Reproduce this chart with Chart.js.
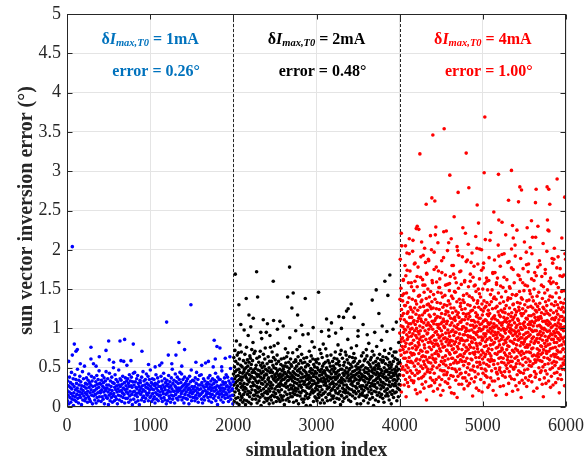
<!DOCTYPE html>
<html><head><meta charset="utf-8">
<script src="https://cdn.jsdelivr.net/npm/chart.js@4.4.0/dist/chart.umd.min.js"></script>
<style>html,body{margin:0;padding:0;background:#fff}canvas{display:block}</style>
</head><body>
<canvas id="c" width="584" height="459"></canvas>
<script>
// ---------------- data ----------------
const groupStart = [0, 2000, 4000];          // first simulation index of each group
const groupSize = 2000;                      // simulations per group
const dividers = [2000, 4000];               // dashed group boundaries
const currents = ['1mA', '2mA', '4mA'];      // δI_max,T0 of each group
const meanErrors = ['0.26°', '0.48°', '1.00°'];

// sampled errors (deg) across each group, in simulation order
const blueErr = [.21,.08,.33,.15,.27,.04,.19,.38,.12,.25,.31,.06,.17,.44,.23,.10,.29,.14,.36,.02,
.18,.26,.09,.41,.13,.22,.35,.07,.30,.16,.24,.48,.11,.20,.05,.34,.28,.15,.39,.19,
.12,.32,.23,.03,.27,.17,.45,.09,.21,.36,.14,.26,.52,.08,.18,.30,.11,.24,.37,.16,
.29,.06,.20,.34,.13,.42,.25,.10,.31,.18,.07,.28,.22,.39,.15,.33,.04,.26,.19,.55,
.14,.37,.21,.09,.27,.16,.32,.05,.23,.40,.12,.29,.18,.35,.08,.25,.46,.13,.30,.20,
.18,.29,.07,.34,.22,.13,.40,.26,.10,.31,.19,.37,.04,.24,.15,.33,.21,.45,.12,.28,
.24,.11,.36,.19,.03,.28,.15,.43,.22,.08,.33,.17,.26,.12,.38,.21,.06,.31,.14,.50,
.17,.30,.08,.25,.41,.13,.22,.35,.10,.27,.19,.04,.32,.23,.15,.47,.28,.09,.20,.36,
.26,.14,.34,.21,.07,.29,.18,.39,.12,.24,.58,.16,.31,.05,.22,.37,.11,.27,.19,.33,
.23,.11,.36,.17,.30,.06,.26,.41,.14,.20,.33,.09,.27,.38,.16,.25,.03,.32,.19,.43,
.10,.28,.20,.44,.15,.32,.06,.25,.17,.36,.23,.13,.40,.08,.30,.18,.26,.03,.21,.34,
.31,.16,.24,.09,.38,.19,.27,.12,.45,.22,.14,.33,.07,.28,.20,.35,.11,.25,.42,.17,
.30,.15,.24,.39,.08,.28,.18,.35,.22,.12,.47,.26,.14,.31,.07,.23,.36,.17,.29,.10,
.22,.35,.13,.27,.05,.30,.18,.41,.24,.10,.29,.16,.37,.21,.08,.32,.26,.14,.53,.19,
.15,.26,.39,.11,.23,.33,.07,.20,.28,.17,.43,.12,.25,.36,.09,.22,.31,.16,.04,.27,
.34,.18,.08,.29,.21,.40,.14,.25,.11,.32,.19,.06,.27,.37,.15,.23,.48,.10,.30,.20,
.14,.34,.20,.05,.27,.42,.16,.25,.32,.11,.22,.38,.19,.09,.30,.24,.13,.35,.21,.44,
.13,.24,.31,.17,.42,.09,.26,.20,.35,.12,.28,.05,.22,.38,.16,.30,.11,.25,.19,.33,
.27,.10,.36,.22,.15,.29,.04,.24,.39,.18,.13,.32,.21,.47,.08,.26,.17,.34,.12,.23,
.19,.33,.12,.26,.08,.37,.21,.15,.30,.44,.11,.24,.18,.35,.06,.28,.22,.14,.40,.16,
.28,.16,.23,.41,.10,.31,.18,.05,.27,.20,.36,.13,.25,.09,.33,.21,.56,.15,.29,.17,
.26,.19,.31,.12,.37,.23,.08,.29,.17,.40,.25,.13,.33,.21,.06,.28,.16,.36,.24,.51,
.11,.30,.20,.34,.14,.25,.43,.08,.22,.32,.17,.27,.03,.38,.19,.12,.26,.35,.16,.24,
.35,.21,.09,.28,.17,.46,.13,.24,.32,.06,.20,.29,.15,.37,.23,.11,.31,.18,.41,.26,
.16,.27,.38,.12,.22,.07,.33,.19,.25,.14,.30,.49,.10,.28,.21,.36,.15,.23,.04,.32];

const blackErr = [.42,.15,.63,.28,.07,.51,.36,.72,.19,.45,.31,.58,.11,.39,.84,.24,.47,.05,.66,.33,
.27,.55,.12,.40,.69,.21,.48,.03,.35,.61,.17,.44,.79,.30,.09,.53,.38,.25,.70,.14,
.34,.12,.51,.27,.43,.06,.38,.22,.59,.16,.45,.30,.09,.48,.25,.67,.19,.40,.03,.56,
.50,.23,.37,.76,.08,.43,.29,.60,.16,.52,.34,.91,.20,.46,.06,.57,.32,.41,.13,.65,
.36,.62,.18,.49,.26,.04,.54,.39,.73,.22,.44,.10,.59,.31,.82,.27,.47,.15,.37,.68,
.28,.44,.15,.36,.71,.21,.49,.10,.33,.53,.18,.42,.26,.62,.05,.39,.31,.14,.47,.24,
.19,.41,.57,.08,.33,.64,.25,.46,.12,.71,.38,.53,.21,.02,.43,.30,.87,.16,.50,.35,
.56,.29,.14,.45,.67,.23,.37,.06,.52,.40,.18,.61,.32,.75,.11,.48,.26,.42,.95,.20,
.41,.08,.55,.29,.17,.46,.35,.64,.11,.37,.23,.50,.04,.32,.58,.20,.44,.27,.76,.13,
.31,.47,.09,.58,.24,.39,.70,.15,.44,.28,.53,.05,.36,.63,.19,.50,.78,.34,.13,.41,
.23,.60,.38,.17,.49,.32,.07,.55,.43,.26,.66,.12,.46,.35,.81,.21,.40,.58,.29,.10,
.19,.37,.26,.48,.07,.42,.30,.15,.54,.33,.61,.22,.39,.12,.46,.28,.35,.09,.52,.41,
.48,.14,.35,.62,.27,.03,.44,.52,.19,.37,.74,.30,.56,.09,.42,.25,.64,.16,.51,.33,
.39,.26,.69,.11,.45,.34,.57,.22,.07,.49,.38,.88,.17,.43,.28,.61,.13,.54,.36,.24,
.52,.23,.40,.13,.33,.69,.18,.45,.27,.06,.38,.57,.21,.43,.31,.16,.49,.36,.24,.60,
.58,.20,.41,.08,.52,.30,.73,.15,.46,.35,.23,.64,.40,.04,.55,.27,.48,.19,.77,.32,
.14,.44,.28,.59,.37,.18,.50,.25,.67,.10,.42,.33,.56,.21,.92,.38,.06,.47,.29,.62,
.10,.46,.32,.57,.20,.39,.14,.51,.28,.44,.02,.35,.63,.17,.41,.25,.54,.11,.37,.29,
.35,.53,.12,.40,.24,.71,.31,.45,.16,.58,.02,.37,.49,.26,.65,.19,.43,.34,.83,.22,
.47,.29,.61,.18,.39,.07,.54,.33,.42,.76,.20,.51,.13,.45,.30,.60,.24,.38,.11,.57,
.43,.27,.08,.50,.36,.22,.61,.31,.16,.47,.34,.12,.55,.26,.40,.73,.19,.45,.05,.33,
.26,.68,.36,.15,.48,.41,.22,.63,.09,.52,.32,.44,.80,.17,.37,.55,.28,.05,.46,.34,
.43,.19,.57,.31,.74,.12,.40,.27,.50,.36,.65,.23,.08,.47,.39,.59,.16,.33,.98,.25,
.25,.56,.38,.17,.45,.29,.52,.09,.36,.66,.21,.42,.30,.14,.48,.37,.23,.58,.32,.11,
.30,.52,.14,.45,.26,.62,.38,.06,.49,.21,.70,.35,.42,.18,.55,.29,.44,.11,.61,.37,
.55,.24,.39,.79,.17,.46,.32,.58,.10,.41,.27,.53,.20,.67,.34,.03,.48,.31,.72,.15,
.37,.14,.48,.31,.62,.24,.07,.43,.35,.19,.53,.28,.40,.11,.57,.22,.46,.33,.70,.18,
.21,.43,.66,.28,.50,.13,.37,.60,.25,.44,.86,.18,.40,.56,.09,.33,.47,.23,.64,.36,
.49,.16,.34,.54,.07,.42,.29,.75,.38,.22,.51,.31,.63,.14,.45,.27,.57,.40,.19,.68,
.33,.58,.20,.46,.37,.11,.62,.26,.41,.52,.17,.35,.78,.24,.48,.04,.43,.30,.55,.90,
.30,.50,.20,.39,.13,.44,.34,.58,.26,.47,.16,.36,.04,.51,.27,.42,.65,.23,.38,.15,
.18,.40,.53,.27,.69,.34,.08,.47,.21,.59,.39,.14,.44,.32,.61,.25,.50,.37,.12,.73,
.44,.28,.65,.15,.36,.49,.23,.57,.05,.42,.31,.81,.19,.46,.35,.54,.10,.39,.26,.60,
.37,.51,.22,.63,.30,.17,.45,.39,.71,.12,.48,.27,.56,.33,.02,.43,.66,.20,.50,.29,
.26,.47,.34,.09,.58,.41,.19,.53,.36,.77,.24,.44,.15,.62,.31,.49,.38,.07,.55,.42,
.52,.18,.40,.67,.28,.35,.13,.48,.60,.23,.43,.32,.85,.16,.46,.27,.57,.39,.11,.64,
.31,.59,.25,.42,.06,.50,.37,.72,.20,.45,.29,.55,.14,.38,.63,.22,.47,.34,.96,.17,
.45,.23,.61,.36,.14,.53,.28,.41,.68,.09,.49,.32,.57,.19,.44,.26,.74,.38,.51,.04,
.38,.54,.16,.47,.29,.65,.21,.43,.34,.58,.12,.40,.27,.70,.35,.48,.18,.62,.30,.45,
.27,.42,.70,.19,.51,.33,.08,.46,.39,.60,.24,.55,.36,.13,.48,.82,.29,.41,.22,.57];

const redErr = [0.94,0.41,1.37,0.72,1.88,0.55,1.12,0.28,0.83,1.51,0.66,1.03,0.19,1.24,0.87,2.05,0.48,1.16,0.77,1.42,
0.88,1.35,0.51,1.02,0.73,1.61,0.40,1.19,0.95,0.62,1.44,0.84,0.28,1.11,0.69,1.29,0.99,0.47,1.80,0.77,
0.62,1.29,0.35,0.98,1.67,0.81,0.13,1.08,0.53,1.45,0.92,0.70,1.96,0.44,1.19,0.86,0.31,1.33,0.58,1.02,
1.21,0.50,0.89,1.58,0.26,1.06,0.74,1.39,0.63,2.14,0.95,0.38,1.14,0.80,1.73,0.57,1.27,0.46,0.99,0.69,
1.06,0.58,1.24,0.90,0.34,1.53,0.81,1.14,0.66,1.00,0.43,1.37,0.75,1.98,0.56,0.93,1.21,0.68,1.08,0.31,
0.85,1.48,0.33,1.10,0.67,1.82,0.52,0.97,1.26,0.40,1.60,0.78,1.05,0.22,1.35,0.91,0.59,1.18,0.73,2.27,
0.47,1.00,1.31,0.61,0.88,0.17,1.53,0.76,1.09,0.43,1.23,0.96,1.78,0.55,0.82,1.41,0.36,1.13,0.68,0.93,
0.79,1.16,0.45,1.42,0.86,1.03,0.60,1.27,0.19,0.97,1.65,0.72,1.12,0.52,1.34,0.89,0.37,1.09,2.10,0.64,
1.36,0.71,0.29,1.17,0.84,1.62,0.49,1.01,0.65,1.93,0.39,0.90,1.28,0.58,1.07,0.24,1.46,0.79,1.20,0.54,
0.75,1.55,0.42,0.97,1.22,0.64,1.84,0.32,1.11,0.86,0.51,1.38,0.70,0.09,1.04,1.69,0.60,0.93,1.30,0.45,
1.23,0.70,0.94,1.50,0.48,1.07,0.82,1.31,0.57,1.86,0.99,0.26,1.17,0.76,1.40,0.63,1.04,0.87,0.44,1.28,
1.15,0.37,0.83,1.47,0.56,1.02,0.27,1.25,0.73,2.00,0.89,0.48,1.34,0.66,1.09,0.81,1.58,0.34,0.99,0.62,
0.52,1.26,0.91,0.20,1.43,0.77,1.06,0.60,1.75,0.43,1.18,0.85,0.31,1.10,0.68,1.37,0.95,2.19,0.57,0.80,
0.61,1.13,0.85,0.35,1.25,0.96,1.59,0.71,1.05,0.50,1.33,0.80,1.15,0.23,0.92,1.46,0.67,1.01,0.78,1.73,
1.05,0.65,1.52,0.38,0.88,1.24,0.53,1.00,0.74,1.63,0.28,1.14,0.90,0.47,1.32,0.71,0.15,1.06,0.84,1.45,
0.58,0.97,1.19,0.35,1.71,0.80,1.08,0.46,0.92,1.40,0.63,1.27,0.21,0.76,1.12,0.55,1.90,0.87,1.03,0.41,
1.09,0.46,1.30,0.77,1.01,0.59,1.42,0.88,0.32,1.18,0.65,1.55,0.94,0.53,1.22,0.83,2.24,0.41,1.06,0.72,
1.29,0.72,0.44,1.09,0.86,1.56,0.30,0.98,1.21,0.61,0.79,1.35,0.50,2.09,0.94,0.36,1.16,0.69,1.48,0.82,
0.90,0.25,1.31,0.67,1.04,1.66,0.54,0.85,1.13,0.40,1.26,0.78,0.96,0.18,1.41,0.62,1.07,1.80,0.49,0.73,
0.84,1.20,0.62,0.98,1.38,0.39,1.12,0.74,1.69,0.56,0.91,1.26,0.17,1.03,0.80,1.47,0.69,1.14,0.48,0.95,
1.10,1.46,0.59,0.83,0.34,1.22,0.95,0.70,1.58,0.45,1.01,0.87,1.34,0.56,0.12,1.17,0.77,1.99,0.64,1.05,
0.39,0.88,1.20,0.74,1.51,0.57,0.99,0.29,1.14,0.81,1.37,0.48,0.93,1.72,0.66,1.08,0.42,1.28,0.85,0.60,
1.32,0.66,1.08,0.43,1.56,0.87,0.99,0.29,1.24,0.73,1.11,0.58,1.91,0.85,1.02,0.37,1.36,0.64,0.92,1.19,
1.42,0.53,1.02,0.79,0.23,1.33,0.68,1.11,0.92,1.61,0.37,0.84,1.25,0.58,2.21,0.96,0.44,1.15,0.71,1.00,
0.76,1.18,0.33,0.97,1.44,0.62,1.06,0.85,1.87,0.50,0.91,1.30,0.27,1.12,0.73,0.55,1.53,0.89,1.19,0.41,
0.55,0.97,1.41,0.79,0.30,1.15,0.68,1.29,0.90,1.60,0.47,1.04,0.76,1.22,0.61,1.84,0.88,0.36,1.10,0.83,
0.98,0.60,1.39,0.82,0.47,1.23,0.14,1.04,0.69,1.65,0.88,1.10,0.52,1.36,0.75,0.95,1.79,0.32,1.01,0.67,
1.27,0.86,0.45,1.08,1.55,0.70,0.94,0.38,1.20,0.63,1.47,0.81,1.03,0.24,1.15,0.92,0.57,2.02,0.78,1.32,
1.17,0.74,0.51,1.35,0.96,1.08,0.42,1.50,0.70,0.89,1.27,0.21,1.13,0.63,1.00,1.44,0.57,2.01,0.81,1.05,
0.54,1.13,0.80,1.40,0.35,0.97,0.66,1.24,0.89,0.49,1.74,1.06,0.72,1.31,0.19,0.85,1.17,0.61,0.99,1.50,
0.87,0.43,1.22,0.69,1.09,1.83,0.56,0.93,1.35,0.31,1.02,0.77,1.26,0.64,1.57,0.48,0.90,1.11,0.40,0.83,
0.67,1.28,0.93,0.46,1.10,0.78,1.64,0.54,1.02,1.33,0.38,0.86,1.18,0.71,1.49,0.97,0.25,1.07,0.60,1.23,
1.16,0.74,0.96,1.61,0.52,1.05,0.28,1.30,0.68,1.19,0.88,2.12,0.58,1.00,0.79,1.43,0.37,1.07,0.65,0.94,
0.61,1.34,0.85,0.46,1.12,0.73,1.49,0.97,0.33,1.25,0.59,1.02,1.70,0.80,0.21,1.14,0.91,1.38,0.54,1.06,
1.01,0.59,1.40,0.82,1.16,0.33,0.95,1.71,0.68,1.12,0.49,1.26,0.87,1.03,0.15,1.37,0.75,0.92,1.58,0.44,
1.03,0.67,1.28,0.88,0.42,1.64,0.76,1.10,0.55,0.95,1.21,0.36,1.45,0.70,1.00,1.92,0.62,0.84,1.17,0.47,
0.79,1.07,0.50,1.32,0.92,0.26,1.15,0.71,1.54,0.63,0.98,1.23,0.44,0.86,1.40,0.57,1.04,0.75,2.35,0.90,
0.73,1.07,0.40,1.21,0.89,1.52,0.62,1.00,0.27,1.34,0.80,1.14,0.56,1.95,0.97,0.69,1.25,0.45,1.09,0.85,
1.20,0.38,0.94,1.11,0.66,1.47,0.82,0.53,1.29,0.99,0.16,1.08,0.73,1.62,0.49,0.87,1.13,0.60,1.36,0.78,
0.64,1.02,1.39,0.56,0.89,1.18,0.30,1.05,0.77,1.85,0.45,0.96,1.26,0.68,1.09,0.39,1.51,0.84,1.00,0.58,
1.38,0.52,0.94,1.15,0.64,1.04,1.77,0.36,1.20,0.83,0.98,0.58,1.43,0.72,0.20,1.11,0.91,1.30,0.50,2.15,
1.31,0.81,0.48,1.14,0.70,0.97,1.58,0.35,1.07,0.86,1.24,0.62,2.06,0.93,0.51,1.17,0.74,1.42,0.27,1.01,
0.95,0.55,1.21,0.79,1.43,0.64,1.04,0.41,0.90,1.33,0.72,1.12,0.22,1.68,0.85,0.59,1.10,0.97,0.46,1.27,
0.86,1.23,0.69,0.31,1.47,0.93,1.06,0.55,1.32,0.78,1.62,0.44,1.01,0.88,1.19,0.66,0.12,1.39,0.82,0.99,
0.71,1.16,0.88,0.34,1.37,0.99,0.61,1.25,0.53,1.06,1.76,0.80,0.43,1.19,0.92,0.68,1.48,0.30,1.03,0.83,
1.08,0.47,1.30,0.86,0.63,1.55,0.76,1.01,0.37,1.22,0.94,0.57,1.13,1.97,0.70,0.88,0.26,1.35,0.79,1.12,
1.12,0.76,1.54,0.48,0.95,1.27,0.61,1.05,0.34,1.82,0.90,1.16,0.70,1.36,0.53,1.00,0.79,1.48,0.39,1.08,
0.58,0.92,1.44,0.69,1.05,0.40,1.28,0.83,1.16,0.52,0.98,1.63,0.74,0.32,1.09,0.87,1.40,0.65,2.16,0.96,
1.26,0.75,0.55,1.03,1.35,0.89,0.20,1.18,0.66,1.50,0.81,1.07,0.45,0.97,1.71,0.60,1.14,0.84,0.38,1.23,
0.57,1.31,0.84,1.10,0.42,1.67,0.97,0.65,1.21,0.87,0.24,1.41,0.74,1.03,0.60,1.28,0.92,2.30,0.68,1.14,
0.82,1.11,0.64,1.46,0.50,0.93,1.24,0.72,1.04,0.35,1.32,0.87,0.59,1.81,0.96,0.44,1.15,0.78,1.02,0.67,
1.13,0.46,0.91,1.20,0.77,1.66,0.58,1.00,0.29,1.38,0.85,0.69,1.09,0.51,1.27,0.94,0.13,1.53,0.73,0.99,
1.25,0.63,1.00,0.37,1.18,0.81,1.45,0.54,1.09,0.90,1.75,0.46,1.34,0.77,0.98,0.30,1.22,0.71,1.06,0.85,
0.68,1.29,0.84,0.42,1.10,0.96,1.49,0.62,1.19,0.79,2.25,0.55,1.04,0.88,0.33,1.36,0.71,1.08,0.90,1.60,
0.97,0.60,1.17,0.80,1.41,0.48,1.06,0.74,0.25,1.23,0.93,1.57,0.65,1.01,0.39,1.31,0.86,1.12,0.56,1.89,
0.92,1.40,0.50,1.13,0.75,1.03,0.28,1.59,0.86,1.20,0.67,0.96,1.88,0.58,1.29,0.82,0.43,1.11,0.94,0.64,
0.53,1.05,0.76,1.34,0.90,0.31,1.14,0.67,1.45,0.99,0.57,1.22,0.82,1.77,0.44,1.03,0.72,0.95,1.30,0.63,
1.18,0.87,0.36,1.07,1.52,0.70,0.94,1.26,0.49,1.11,0.78,0.18,1.39,0.85,1.01,0.61,1.67,0.92,0.41,1.15,
1.05,0.70,1.33,0.89,0.52,1.24,0.99,0.35,1.47,0.79,1.15,0.61,1.01,1.66,0.48,0.87,1.27,0.73,1.10,0.56,
0.74,1.32,0.97,0.54,1.21,0.83,1.48,0.64,1.02,0.27,1.13,0.89,1.95,0.59,0.80,1.37,0.47,1.09,0.70,1.25];

// individually read high points: [simulation index, error]
const blueHigh = [[64,2.04],[1490,1.30],[1198,1.08],[693,0.86],[637,0.84],[501,0.84],[88,0.80],[797,0.80],
[1770,0.85],[1346,0.82],[1803,0.77],[1839,0.75],[288,0.76],[124,0.73],[108,0.71],[1414,0.73],[901,0.71],
[469,0.72],[64,0.66],[1218,0.66],[1310,0.66],[388,0.64],[769,0.59],[649,0.59],[508,0.60],[20,0.58],
[288,0.61],[1783,0.61],[1903,0.62],[1959,0.64],[160,0.55],[350,0.52],[560,0.57],[720,0.53],[980,0.54],
[1060,0.51],[1140,0.56],[1260,0.55],[1380,0.52],[1550,0.57],[1620,0.53],[1700,0.58],[1860,0.51]];

const blackHigh = [[2023,1.69],[2280,1.72],[2676,1.78],[2480,1.60],[3882,1.68],[3822,1.60],[3718,1.49],
[3025,1.46],[2720,1.45],[2653,1.40],[3858,1.42],[2292,1.40],[2155,1.38],[2865,1.38],[3670,1.36],[2067,1.30],
[3417,1.31],[2704,1.26],[3381,1.25],[3361,1.22],[3750,1.19],[2773,1.17],[3269,1.15],[3325,1.14],[3453,1.14],
[2188,1.17],[2240,1.13],[2360,1.11],[2484,1.10],[2560,1.09],[3121,1.12],[2090,1.05],[2130,0.98],[2210,1.02],
[2330,0.95],[2410,1.06],[2530,0.99],[2600,1.03],[2750,0.97],[2820,1.04],[2900,0.93],[2960,1.01],[3060,0.96],
[3180,1.07],[3230,0.94],[3300,1.00],[3500,0.97],[3560,1.05],[3610,0.92],[3790,1.03],[3920,0.99],[3960,1.08],
[2440,0.91],[3150,0.90],[3700,0.95]];

const redHigh = [[5024,3.69],[4535,3.54],[4399,3.46],[4243,3.22],[4800,3.23],[4603,2.95],[5016,2.98],
[5188,2.96],[5344,3.01],[5893,2.90],[5445,2.80],[5465,2.76],[5641,2.77],[5773,2.80],[5793,2.77],[4832,2.79],
[4703,2.73],[4387,2.66],[4423,2.62],[4319,2.58],[4932,2.57],[5309,2.63],[5429,2.61],[5633,2.60],[5805,2.58],
[5985,2.67],[5132,2.48],[4655,2.42],[5192,2.38],[4948,2.34],[5585,2.37],[5777,2.38],[4211,2.30],[4435,2.29],
[5357,2.31],[5533,2.28]];

// upper part of the red cloud (1.5 to 2.3 deg): [simulation index, error]
const redUpper = [[4020,2.21],[4045,1.62],[4070,2.05],[4090,1.74],[4115,1.95],[4140,1.58],[4160,2.12],[4185,1.83],
[4210,1.66],[4230,2.26],[4255,1.91],[4280,1.55],[4300,2.02],[4325,1.70],[4345,1.88],[4370,2.18],[4390,1.61],
[4415,1.97],[4440,1.78],[4460,2.09],[4480,1.52],[4505,1.86],[4530,2.23],[4550,1.68],[4575,1.99],[4600,1.57],
[4620,2.14],[4645,1.80],[4665,1.64],[4690,2.04],[4710,1.93],[4735,1.73],[4760,2.28],[4780,1.59],[4800,1.85],
[4825,2.07],[4850,1.69],[4870,1.96],[4895,1.54],[4915,2.17],[4940,1.82],[4960,1.63],[4985,2.00],[5005,1.77],
[5030,2.13],[5050,1.60],[5075,1.90],[5095,2.22],[5120,1.71],[5140,1.87],[5165,1.56],[5185,2.06],[5210,1.79],
[5230,1.94],[5255,1.65],[5275,2.19],[5300,1.84],[5320,1.53],[5345,2.01],[5365,1.75],[5390,1.92],[5410,2.25],
[5435,1.67],[5455,1.89],[5480,1.58],[5500,2.10],[5525,1.81],[5545,1.72],[5570,2.03],[5590,1.95],[5615,1.61],
[5635,2.16],[5660,1.78],[5680,1.86],[5705,1.55],[5725,2.08],[5750,1.70],[5770,1.98],[5795,2.24],[5815,1.64],
[5840,1.83],[5860,2.02],[5885,1.57],[5905,1.91],[5930,1.76],[5950,2.15],[5975,1.68],[5995,1.88]];

// ---------------- styles ----------------
const FONT = "'Liberation Serif','Times New Roman',serif";
const pointColors = ['#0000FF', '#000000', '#FF0000'];
const labelColors = ['#0072BD', '#000000', '#FF0000'];
const axisColor = '#262626';

function toPoints(start, vals, high) {
  const step = groupSize / vals.length;
  const pts = vals.map((v, i) => ({x: start + (i + 0.5) * step, y: v}));
  high.forEach(([x, y]) => pts.push({x, y}));
  return pts;
}
const groups = [[blueErr, blueHigh], [blackErr, blackHigh], [redErr, redHigh.concat(redUpper)]];

function drawRich(ctx, parts, cx, base, color) {
  ctx.fillStyle = color;
  ctx.textAlign = 'left';
  ctx.textBaseline = 'alphabetic';
  let w = 0;
  parts.forEach(p => { ctx.font = p.font; w += ctx.measureText(p.t).width; });
  let x = cx - w / 2;
  parts.forEach(p => { ctx.font = p.font; ctx.fillText(p.t, x, base + (p.dy || 0)); x += ctx.measureText(p.t).width; });
}

const overlay = {
  id: 'overlay',
  beforeDatasetsDraw(chart) {
    const {ctx, chartArea: a, scales: {x}} = chart;
    ctx.save();
    ctx.strokeStyle = axisColor; ctx.lineWidth = 1; ctx.setLineDash([3, 2]);
    dividers.forEach(v => {
      const px = Math.round(x.getPixelForValue(v)) + 0.5;
      ctx.beginPath(); ctx.moveTo(px, a.top); ctx.lineTo(px, a.bottom); ctx.stroke();
    });
    ctx.restore();
  },
  afterDatasetsDraw(chart) {
    const {ctx, chartArea: a, scales: {x, y}} = chart;
    ctx.save();
    ctx.strokeStyle = axisColor; ctx.lineWidth = 1;
    const L = Math.round(a.left) + 0.5, R = Math.round(a.right) - 0.5, T = Math.round(a.top) + 0.5, B = Math.round(a.bottom) - 0.5;
    ctx.strokeRect(L, T, R - L, B - T);
    ctx.beginPath();
    x.ticks.forEach(t => { const px = Math.round(x.getPixelForValue(t.value)) + 0.5;
      ctx.moveTo(px, B); ctx.lineTo(px, B - 5); ctx.moveTo(px, T); ctx.lineTo(px, T + 5); });
    y.ticks.forEach(t => { const py = Math.round(y.getPixelForValue(t.value)) + 0.5;
      ctx.moveTo(L, py); ctx.lineTo(L + 5, py); ctx.moveTo(R, py); ctx.lineTo(R - 5, py); });
    ctx.stroke();
    groupStart.forEach((s, i) => {
      const cx = x.getPixelForValue(s + groupSize / 2);
      drawRich(ctx, [
        {t: 'δ', font: `bold 16px ${FONT}`},
        {t: 'I', font: `italic bold 16px ${FONT}`},
        {t: 'max,T0', font: `italic bold 10.5px ${FONT}`, dy: 2},
        {t: ' = ' + currents[i], font: `bold 16px ${FONT}`}
      ], cx, 44, labelColors[i]);
      drawRich(ctx, [{t: 'error = ' + meanErrors[i], font: `bold 16px ${FONT}`}], cx + 6, 76, labelColors[i]);
    });
    ctx.fillStyle = axisColor;
    ctx.font = `bold 20px ${FONT}`;
    ctx.textAlign = 'center'; ctx.textBaseline = 'alphabetic';
    ctx.fillText('simulation index', (a.left + a.right) / 2, 456);
    ctx.translate(32, (a.top + a.bottom) / 2);
    ctx.rotate(-Math.PI / 2);
    ctx.fillText('sun vector inversion error (°)', 0, 0);
    ctx.restore();
  }
};

new Chart(document.getElementById('c'), {
  type: 'scatter',
  data: {
    datasets: groups.map(([vals, high], i) => ({
      data: toPoints(groupStart[i], vals, high),
      backgroundColor: pointColors[i],
      borderWidth: 0,
      pointRadius: 1.8,
      pointHoverRadius: 0
    }))
  },
  options: {
    responsive: false,
    animation: false,
    devicePixelRatio: 1,
    layout: {padding: {top: 14, right: 18, left: 0, bottom: 0}},
    plugins: {legend: {display: false}, tooltip: {enabled: false}},
    events: [],
    scales: {
      x: {
        type: 'linear', min: 0, max: 6000,
        afterFit: s => { s.height = 52; s.paddingLeft = 0; s.paddingRight = 0; },
        ticks: {stepSize: 1000, font: {family: FONT, size: 18}, color: axisColor, padding: 8, maxRotation: 0, autoSkip: false,
                callback: v => String(v)},
        grid: {color: '#e4e4e4', drawTicks: false, lineWidth: 1},
        border: {display: false}
      },
      y: {
        min: 0, max: 5,
        afterFit: s => { s.width = 67; s.paddingTop = 0; s.paddingBottom = 0; },
        ticks: {stepSize: 0.5, font: {family: FONT, size: 18}, color: axisColor, padding: 6,
                callback: v => String(Math.round(v * 10) / 10)},
        grid: {color: '#e4e4e4', drawTicks: false, lineWidth: 1},
        border: {display: false}
      }
    }
  },
  plugins: [overlay]
});
</script>
</body></html>
